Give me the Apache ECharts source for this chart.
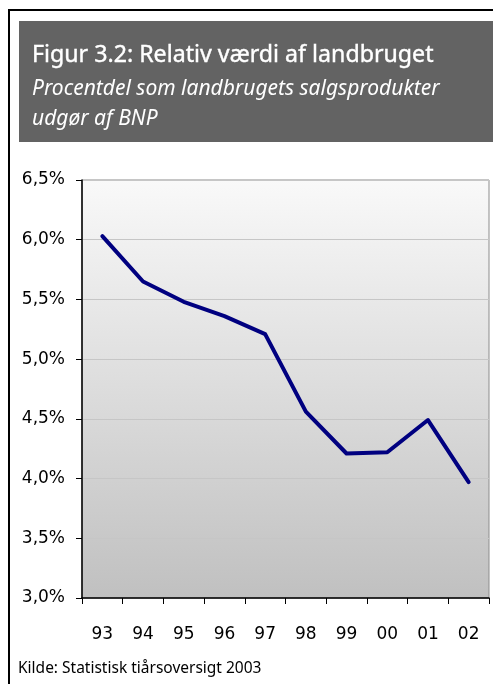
<!DOCTYPE html>
<html>
<head>
<meta charset="utf-8">
<style>
  html, body { margin: 0; padding: 0; background: #ffffff; }
  #chart { width: 493px; height: 684px; }
</style>
<script src="https://cdn.jsdelivr.net/npm/echarts@6/dist/echarts.min.js"></script>
</head>
<body>
<div id="chart"></div>
<script>
// Years (two-digit labels) and agriculture's share of GDP, in percent
const years = ['93', '94', '95', '96', '97', '98', '99', '00', '01', '02'];
const sharePct = [6.03, 5.65, 5.48, 5.36, 5.21, 4.56, 4.21, 4.22, 4.49, 3.97];

const titleText = 'Figur 3.2: Relativ værdi af landbruget';
const subtitleLines = ['Procentdel som landbrugets salgsprodukter', 'udgør af BNP'];
const sourceText = 'Kilde: Statistisk tiårsoversigt 2003';

const headFont = '"Noto Sans", "Open Sans", sans-serif';
const axisFont = '"DejaVu Sans", Verdana, sans-serif';

const chart = echarts.init(document.getElementById('chart'), null, { renderer: 'canvas' });

chart.setOption({
  animation: false,
  backgroundColor: '#ffffff',
  graphic: [
    // outer frame
    { type: 'rect', shape: { x: 9, y: 10, width: 520, height: 700 },
      style: { fill: 'none', stroke: '#000000', lineWidth: 2 }, z: 0 },
    // header box
    { type: 'rect', shape: { x: 19, y: 21, width: 480, height: 121 },
      style: { fill: '#636363' }, z: 1 },
    { type: 'text', x: 32, y: 55, z: 2,
      style: { text: titleText, fill: '#ffffff', verticalAlign: 'middle',
               stroke: '#ffffff', lineWidth: 0.4,
               font: '23.2px ' + headFont } },
    { type: 'text', x: 32, y: 74, z: 2,
      style: { text: subtitleLines.join('\n'), fill: '#ffffff', lineHeight: 30,
               verticalAlign: 'top', font: 'italic 21px ' + headFont } },
    { type: 'text', x: 18, y: 669, z: 2,
      style: { text: sourceText, fill: '#000000', verticalAlign: 'middle',
               font: '15.5px ' + headFont } }
  ],
  grid: {
    left: 82, right: 4, top: 180, bottom: 86,
    show: true,
    borderColor: '#8c8c8c', borderWidth: 1,
    backgroundColor: {
      type: 'linear', x: 0, y: 0, x2: 0, y2: 1,
      colorStops: [
        { offset: 0, color: '#f9f9f9' },
        { offset: 1, color: '#c0c0c0' }
      ]
    }
  },
  xAxis: {
    type: 'category',
    data: years,
    boundaryGap: true,
    axisLine: { lineStyle: { color: '#000000', width: 1.5 } },
    axisTick: { show: true, interval: 0, length: 6, lineStyle: { color: '#000000' } },
    axisLabel: { color: '#000000', fontSize: 17, fontFamily: axisFont, margin: 28, interval: 0 },
    splitLine: { show: false }
  },
  yAxis: {
    type: 'value',
    min: 3, max: 6.5, interval: 0.5,
    axisLine: { show: true, lineStyle: { color: '#000000', width: 1.5 } },
    axisTick: { show: true, length: 6, lineStyle: { color: '#000000' } },
    axisLabel: {
      color: '#000000', fontSize: 17, fontFamily: axisFont, margin: 17,
      formatter: v => v.toFixed(1).replace('.', ',') + '%'
    },
    splitLine: { show: true, lineStyle: { color: '#c6c6c6', width: 1 } }
  },
  series: [{
    type: 'line',
    data: sharePct,
    showSymbol: false,
    symbol: 'none',
    lineStyle: { color: '#000080', width: 4, cap: 'round', join: 'round' },
    z: 5
  }]
});
</script>
</body>
</html>
